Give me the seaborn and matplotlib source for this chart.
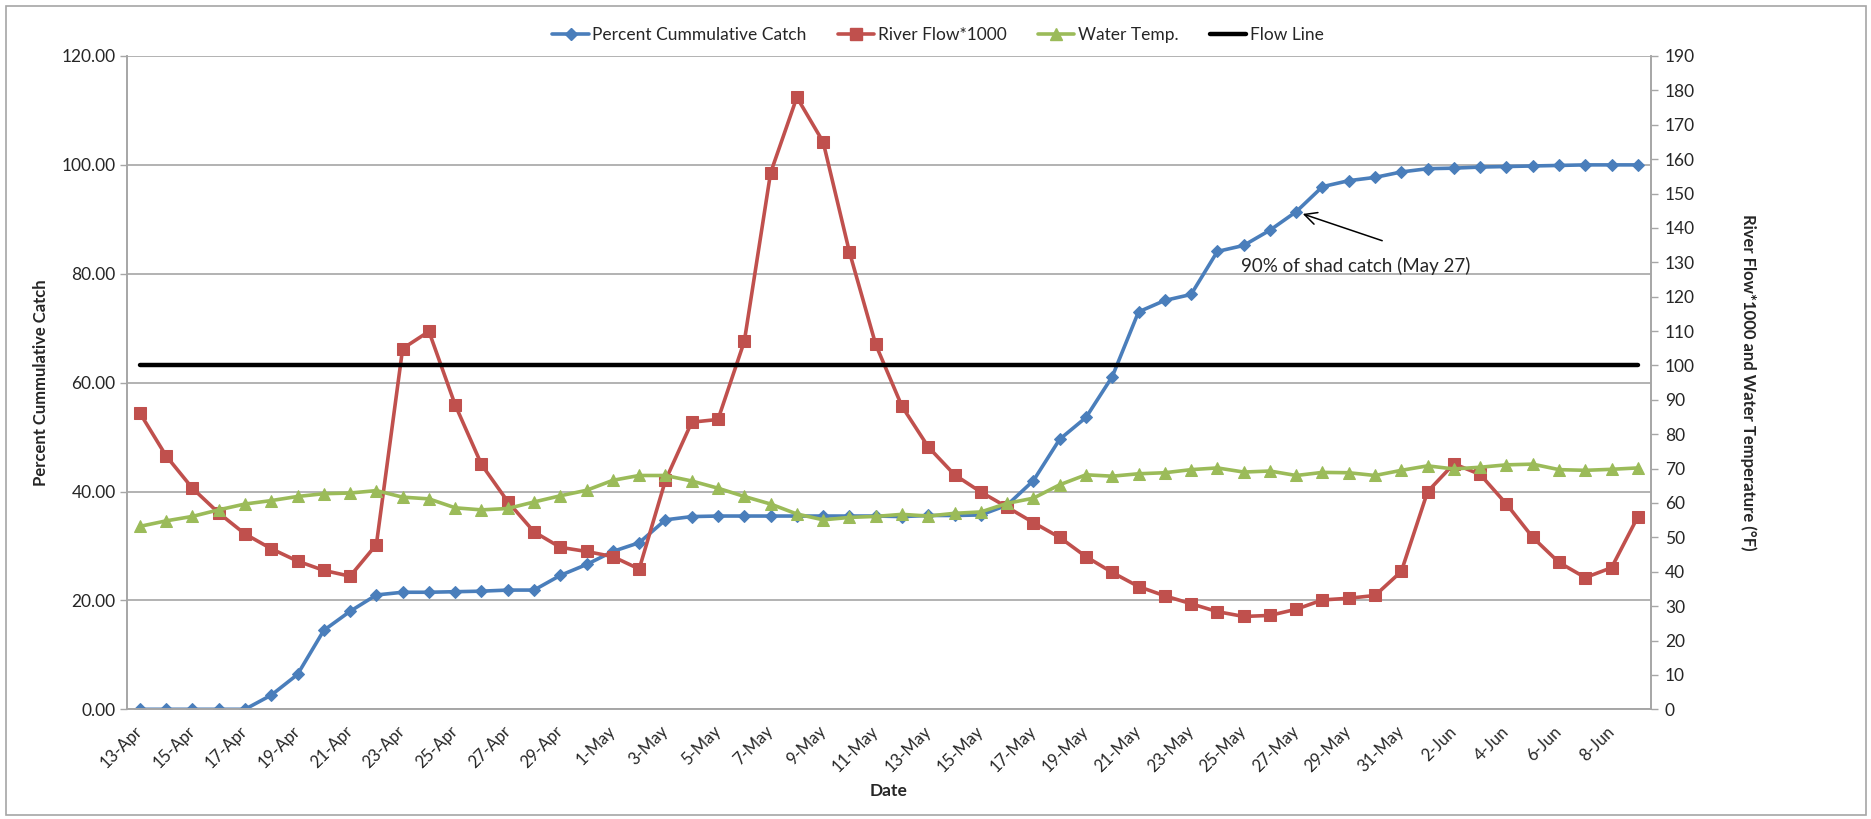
import matplotlib
matplotlib.use("Agg")
import matplotlib.pyplot as plt
from matplotlib.lines import Line2D
from matplotlib.patches import Rectangle
import numpy as np
import pandas as pd
import seaborn as sns

# daily values, 13-Apr .. 9-Jun
dates = pd.date_range("2013-04-13", "2013-06-09", freq="D")
date_labels = [f"{d.day}-{d.strftime('%b')}" for d in dates]

catch_pct = [0, 0, 0, 0, 0, 2.6, 6.4, 14.5, 18.0, 21.0, 21.5, 21.5, 21.6, 21.7, 21.9, 21.9,
             24.6, 26.6, 29.0, 30.6, 34.8, 35.4, 35.5, 35.5, 35.5, 35.5, 35.5, 35.5, 35.5,
             35.4, 35.6, 35.6, 35.7, 37.5, 42.0, 49.6, 53.6, 61.1, 73.0, 75.1, 76.2, 84.1,
             85.2, 88.0, 91.4, 96.0, 97.1, 97.7, 98.7, 99.3, 99.4, 99.6, 99.7, 99.8, 99.9,
             100, 100, 100]
river_flow = [86.2, 73.7, 64.3, 57.1, 51.0, 46.7, 43.1, 40.4, 38.7, 47.9, 104.9, 109.9, 88.5,
              71.2, 60.4, 51.6, 47.1, 45.9, 44.4, 40.8, 66.6, 83.5, 84.3, 107.0, 156.0, 178.0,
              165.0, 133.0, 106.1, 88.1, 76.3, 68.2, 63.2, 58.8, 54.3, 50.0, 44.4, 39.8, 35.7,
              33.0, 30.7, 28.4, 27.0, 27.3, 29.1, 31.8, 32.3, 33.1, 40.1, 63.3, 71.4, 68.3,
              59.7, 50.0, 42.7, 38.3, 41.2, 56.0]
water_temp = [53.2, 54.8, 56.1, 58.0, 59.7, 60.7, 61.9, 62.7, 62.9, 63.6, 61.7, 61.2, 58.6,
              58.0, 58.4, 60.3, 62.1, 63.7, 66.6, 68.0, 68.0, 66.4, 64.3, 61.9, 59.7, 56.8,
              55.1, 55.8, 56.1, 56.7, 56.2, 57.0, 57.4, 59.9, 61.4, 65.3, 68.2, 67.8, 68.5,
              68.8, 69.7, 70.2, 69.0, 69.3, 68.0, 68.9, 68.8, 68.0, 69.5, 70.8, 69.9, 70.4,
              71.1, 71.3, 69.7, 69.5, 69.8, 70.2]
flow_level = 100
marked_day = 44  # 27-May, 90% of catch

BLUE = "#4A7EBB"
RED = "#C0504D"
GREEN = "#9BBB59"
GRID = "#A6A6A6"

sns.set_style("white")
plt.rcParams["font.family"] = ["Lato", "DejaVu Sans"]

W, H = 1871, 819
fig = plt.figure(figsize=(W / 100, H / 100), dpi=100)
ax = fig.add_axes([126.7 / W, 1 - 709.3 / H, (1651 - 126.7) / W, (709.3 - 56) / H])
ax2 = ax.twinx()

x = np.arange(len(dates))

blue_style = dict(color=BLUE, lw=2.6, marker="D", markersize=6.5, markeredgecolor=BLUE)
red_style = dict(color=RED, lw=2.6, marker="s", markersize=9, markeredgecolor=RED)
green_style = dict(color=GREEN, lw=2.6, marker="^", markersize=9, markeredgecolor=GREEN)

sns.lineplot(x=x, y=catch_pct, ax=ax, label="Percent Cummulative Catch", **blue_style)
sns.lineplot(x=x, y=river_flow, ax=ax2, label="River Flow*1000", **red_style)
sns.lineplot(x=x, y=water_temp, ax=ax2, label="Water Temp.", **green_style)
sns.lineplot(x=[x[0], x[-1]], y=[flow_level, flow_level], ax=ax2, color="black",
             linewidth=3.2, label="Flow Line")
for a in (ax, ax2):
    if a.get_legend() is not None:
        a.get_legend().remove()

ax.set_xlim(-0.5, len(dates) - 0.5)
ax.set_ylim(0, 120)
ax2.set_ylim(0, 190)

ax.set_yticks(np.arange(0, 121, 20))
ax.set_yticklabels([f"{v:.2f}" for v in np.arange(0, 121, 20)])
ax2.set_yticks(np.arange(0, 191, 10))

ax.set_xticks(x[::2])
ax.set_xticklabels(date_labels[::2], rotation=45, ha="right", va="center",
                   rotation_mode="anchor")
ax.set_xticks(np.arange(-0.5, len(dates), 2), minor=True)
ax.tick_params(axis="x", which="major", length=0, pad=14, labelsize=12)
ax.tick_params(axis="x", which="minor", length=5, color=GRID, width=1, direction="out")
ax.tick_params(axis="y", length=5, color=GRID, width=1, direction="out", labelsize=12.5, pad=3)
ax2.tick_params(axis="y", length=5, color=GRID, width=1, direction="out", labelsize=12.5, pad=5)

ax.grid(axis="y", color=GRID, linewidth=1.2)
ax.grid(axis="x", visible=False)
ax.set_axisbelow(True)

for a in (ax, ax2):
    a.spines["top"].set_visible(False)
    for s in ("left", "right", "bottom"):
        a.spines[s].set_color(GRID)
        a.spines[s].set_linewidth(1.2)

ax.set_xlabel("Date", fontsize=12.5, fontweight="bold", labelpad=6)
ax.set_ylabel("Percent Cummulative Catch", fontsize=12, fontweight="bold", labelpad=9)
ax2.set_ylabel("River Flow*1000 and Water Temperature (\u00b0F)", fontsize=12,
               fontweight="bold", rotation=270, labelpad=44)

# arrow + note at 90% point
ax.annotate("", xy=(marked_day, catch_pct[marked_day]), xycoords="data",
            xytext=(86, -29), textcoords="offset pixels",
            arrowprops=dict(arrowstyle="->", color="black", lw=1.1,
                            shrinkA=0, shrinkB=5, mutation_scale=22))
ax.annotate("90% of shad catch (May 27)", xy=(marked_day, catch_pct[marked_day]),
            xycoords="data", xytext=(-55, -54), textcoords="offset pixels",
            ha="left", va="center", fontsize=13.5)

handles = [
    Line2D([], [], **blue_style),
    Line2D([], [], **red_style),
    Line2D([], [], **green_style),
    Line2D([], [], color="black", lw=3.2),
]
labels = ["Percent Cummulative Catch", "River Flow*1000", "Water Temp.", "Flow Line"]
fig.legend(handles, labels, loc="center", bbox_to_anchor=(938 / W, 1 - 35 / H), ncol=4,
           frameon=False, fontsize=12.5, handlelength=2.1, handletextpad=0.2,
           columnspacing=1.8)

fig.patches.append(Rectangle((6 / W, 4 / H), (1866 - 6) / W, (813 - 4) / H,
                             transform=fig.transFigure, fill=False,
                             edgecolor=GRID, linewidth=1.2))

fig.savefig("out.png", dpi=100)
